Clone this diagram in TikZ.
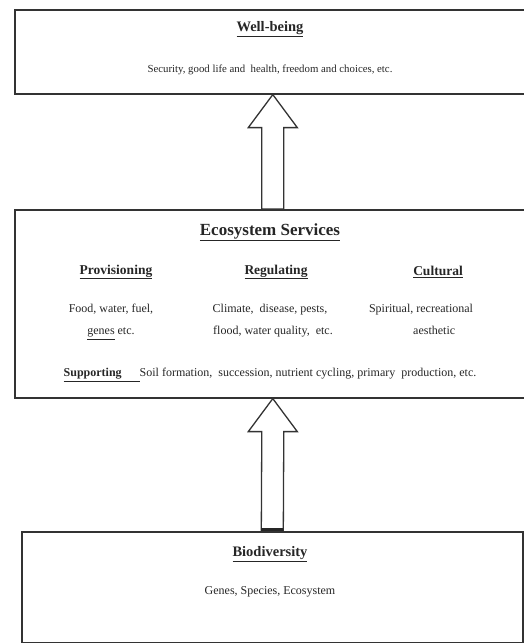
\documentclass[tikz,border=0pt]{standalone}
\usepackage{fontspec}
\setmainfont{Liberation Serif}
\usetikzlibrary{positioning}

\begin{document}
\begin{tikzpicture}[
        %Environment config
        x=1pt, y=-1pt,
        font=\fontsize{12}{14}\selectfont,
        color=black!85,
        %Environment styles
        BoxCfg/.style={
            draw=black!80,
            line width=1.6pt,
            rectangle,
            anchor=north west,
            inner sep=0pt
        },
        TitleCfg/.style={font=\bfseries\fontsize{14.5}{16}\selectfont},
        HeadCfg/.style={font=\bfseries\fontsize{13.5}{15}\selectfont},
        ListCfg/.style={align=center, font=\fontsize{12}{22}\selectfont},
        ArrowCfg/.style={draw=black!80, line width=1.3pt, line join=miter}
    ]
    \useasboundingbox (0,0) rectangle (524,643);
    \clip (0,0) rectangle (524,643);

    % the three boxes
    \node[BoxCfg, minimum width=516pt, minimum height=84pt] (WB) at (14,9) {};
    \node[BoxCfg, minimum width=516pt, minimum height=188pt] (ES) at (14,209) {};
    \node[BoxCfg, minimum width=501pt, minimum height=111pt] (BIO) at (21,531) {};

    % texts
    \node[TitleCfg] (WBtitle) at (270,29) {\underline{Well-being}};
    \node[font=\fontsize{10.8}{13}\selectfont] (WBtext) at (270,70) {Security, good life and \ health, freedom and choices, etc.};

    \node[font=\bfseries\fontsize{17}{19}\selectfont] (EStitle) at (270,232) {\underline{Ecosystem Services}};
    \node[HeadCfg] (PRO) at (116,272) {\underline{Provisioning}};
    \node[HeadCfg] (REG) at (276,272) {\underline{Regulating}};
    \node[HeadCfg] (CUL) at (438,272) {\underline{Cultural}};
    \node[ListCfg] (PROtext) at (111,322) {Food, water, fuel,\\\underline{genes} etc.};
    \node[ListCfg] (REGtext) at (270,321) {Climate, \ disease, pests,\\\ \ flood, water quality, \ etc.};
    \node[ListCfg] (CULtext) at (421,319) {Spiritual, recreational\\\hspace*{2.2em}aesthetic};
    \node (SUP) at (270,375) {\underline{\textbf{Supporting}\hspace*{1.5em}}Soil formation, \ succession, nutrient cycling, primary \ production, etc.};

    \node[TitleCfg] (BIOtitle) at (270,554) {\underline{Biodiversity}};
    \node (BIOtext) at (270,592) {Genes, Species, Ecosystem};

    % block arrows
    \foreach \from/\to in {ES/WB, BIO/ES}
        \draw[ArrowCfg] (\to.south)
            -- ([xshift=24.5pt,yshift=-33pt]\to.south)
            -- ([xshift=11pt,yshift=-33pt]\to.south)
            -- ([xshift=11pt]\from.north)
            -- ([xshift=-11pt]\from.north)
            -- ([xshift=-11pt,yshift=-33pt]\to.south)
            -- ([xshift=-24.5pt,yshift=-33pt]\to.south)
            -- cycle;
    \draw[line width=2.5pt] ([xshift=-11pt,yshift=1.5pt]BIO.north) -- ([xshift=11pt,yshift=1.5pt]BIO.north);
\end{tikzpicture}
\end{document}
